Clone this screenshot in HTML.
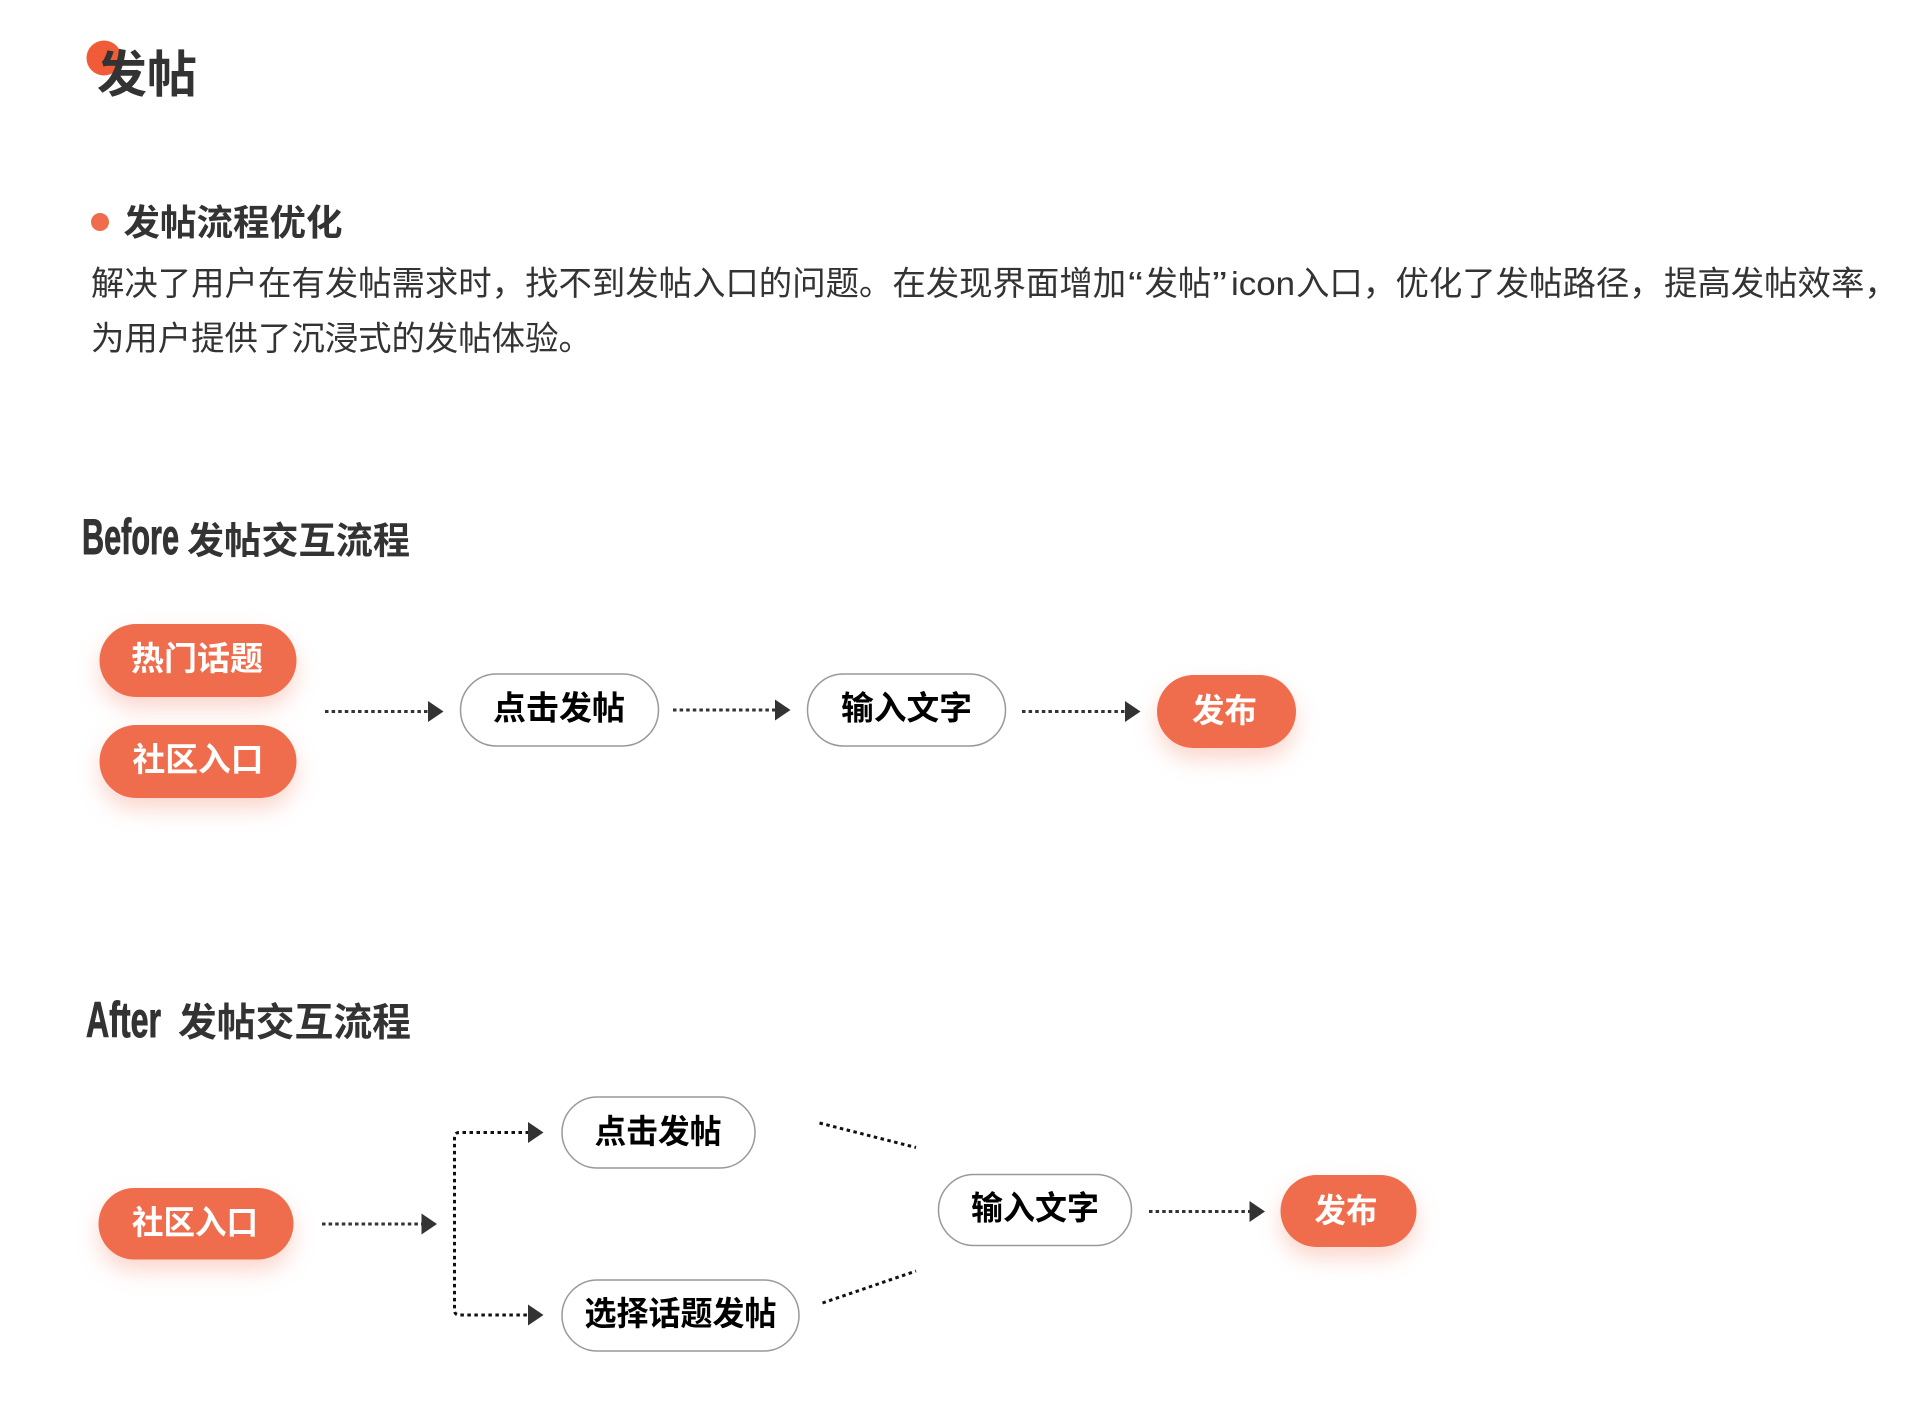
<!DOCTYPE html>
<html lang="zh-CN">
<head>
<meta charset="utf-8">
<title>发帖</title>
<style>
html,body{margin:0;padding:0;background:#fff;width:1930px;height:1424px;overflow:hidden}
svg{display:block}
text{font-family:"Liberation Sans","Noto Sans CJK SC",sans-serif}
.o{fill:#EF6D4D;filter:drop-shadow(0 11px 11px rgba(240,109,76,.28))}
.w{fill:#fff;stroke:#999;stroke-width:1.5}
.tw{fill:#fff;font-size:33px;font-weight:700}
.tb{fill:#000;font-size:33px;font-weight:700}
.d{fill:none;stroke:#333;stroke-width:3;stroke-dasharray:3.500 3.100}
.k{fill:none;stroke:#111;stroke-width:3;stroke-dasharray:3.500 3.500}
.h{fill:#333}
.p{fill:#333;font-size:33.400px}
.s{fill:#333;font-weight:700}
.l{fill:#333;stroke:#333;stroke-width:.9;font-weight:700}
</style>
</head>
<body>
<svg width="1930" height="1424" viewBox="0 0 1930 1424" xmlns="http://www.w3.org/2000/svg">
<circle cx="104" cy="58" r="17.500" fill="#F15C38"/>
<text x="97" y="92" font-size="50" font-weight="700" fill="#333" textLength="100" lengthAdjust="spacingAndGlyphs">发帖</text>

<circle cx="100" cy="222" r="9" fill="#EF6D4D"/>
<text x="123.500" y="235" font-size="36" font-weight="700" fill="#333" textLength="219" lengthAdjust="spacingAndGlyphs">发帖流程优化</text>

<text class="p" x="91" y="295">解决了用户在有发帖需求时，找不到发帖入口的问题。在发现界面增加</text>
<text class="p" x="1128" y="295" textLength="15" lengthAdjust="spacingAndGlyphs">“</text>
<text class="p" x="1144.500" y="295">发帖</text>
<text class="p" x="1212" y="295" textLength="15" lengthAdjust="spacingAndGlyphs">”</text>
<text class="p" x="1231" y="295" textLength="64" lengthAdjust="spacingAndGlyphs">icon</text>
<text class="p" x="1296" y="295">入口，</text>
<text class="p" x="1395.500" y="295">优化了发帖路径，</text>
<text class="p" x="1664" y="295">提高发帖效率，</text>
<text class="p" x="91" y="350">为用户提供了沉浸式的发帖体验。</text>

<text class="l" x="82" y="554" font-size="50" textLength="97" lengthAdjust="spacingAndGlyphs">Before</text>
<text class="s" x="187" y="553.500" font-size="37" textLength="223" lengthAdjust="spacingAndGlyphs">发帖交互流程</text>

<rect class="o" x="99.500" y="624" width="197" height="73" rx="36.500"/>
<text class="tw" x="131" y="670" textLength="132" lengthAdjust="spacingAndGlyphs">热门话题</text>
<rect class="o" x="99.500" y="725" width="197" height="73" rx="36.500"/>
<text class="tw" x="132.500" y="771" textLength="131" lengthAdjust="spacingAndGlyphs">社区入口</text>

<path class="d" d="M325 711.500H430"/>
<path class="h" d="M428 701L443.500 711.500L428 722Z"/>
<rect class="w" x="460.500" y="674" width="198" height="72" rx="36"/>
<text class="tb" x="493" y="719.500" textLength="132" lengthAdjust="spacingAndGlyphs">点击发帖</text>

<path class="d" d="M673 710H777"/>
<path class="h" d="M775 699.500L790.500 710L775 720.500Z"/>
<rect class="w" x="807.500" y="674" width="198" height="72" rx="36"/>
<text class="tb" x="841" y="719.500" textLength="131" lengthAdjust="spacingAndGlyphs">输入文字</text>

<path class="d" d="M1022 711.500H1127"/>
<path class="h" d="M1125 701L1140.500 711.500L1125 722Z"/>
<rect class="o" x="1157" y="675" width="139" height="73" rx="36.500"/>
<text class="tw" x="1192" y="722" textLength="65" lengthAdjust="spacingAndGlyphs">发布</text>

<text class="l" x="86" y="1037" font-size="50" textLength="75" lengthAdjust="spacingAndGlyphs">After</text>
<text class="s" x="178" y="1036" font-size="39" textLength="233" lengthAdjust="spacingAndGlyphs">发帖交互流程</text>

<rect class="o" x="98.500" y="1188" width="195" height="71.500" rx="35.750"/>
<text class="tw" x="132" y="1234" textLength="126" lengthAdjust="spacingAndGlyphs">社区入口</text>

<path class="d" d="M322 1224H423"/>
<path class="h" d="M421.500 1213.500L437 1224L421.500 1234.500Z"/>

<path class="k" d="M529 1132.500H459.500Q454.500 1132.500 454.500 1137.500V1310Q454.500 1315 459.500 1315H529"/>
<path class="h" d="M528 1122L543.500 1132.500L528 1143Z"/>
<path class="h" d="M528 1304.500L543.500 1315L528 1325.500Z"/>

<rect class="w" x="562" y="1097" width="193" height="71" rx="35.500"/>
<text class="tb" x="594.500" y="1143" textLength="127" lengthAdjust="spacingAndGlyphs">点击发帖</text>
<rect class="w" x="562" y="1280" width="237" height="71" rx="35.500"/>
<text class="tb" x="584.500" y="1325" textLength="192" lengthAdjust="spacingAndGlyphs">选择话题发帖</text>

<path class="k" d="M819.500 1123L916 1147.500"/>
<path class="k" d="M822.500 1303L916 1271"/>

<rect class="w" x="938.500" y="1174.500" width="193" height="71" rx="35.500"/>
<text class="tb" x="971" y="1219.500" textLength="128" lengthAdjust="spacingAndGlyphs">输入文字</text>

<path class="d" d="M1149 1211.500H1251"/>
<path class="h" d="M1249.500 1201L1265 1211.500L1249.500 1222Z"/>
<rect class="o" x="1280.500" y="1175" width="136" height="72" rx="36"/>
<text class="tw" x="1314.500" y="1222" textLength="63" lengthAdjust="spacingAndGlyphs">发布</text>
</svg>
</body>
</html>
